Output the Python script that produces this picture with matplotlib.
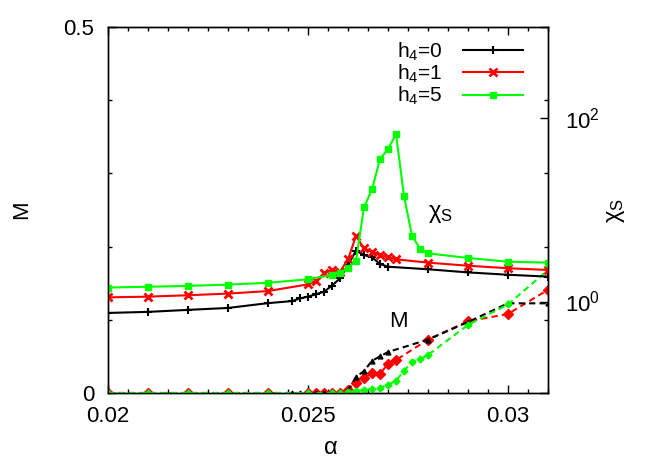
import matplotlib
matplotlib.use("Agg")
import matplotlib.pyplot as plt
from matplotlib.ticker import FixedLocator, NullLocator, MultipleLocator
from matplotlib.lines import Line2D

plt.rcParams['font.family'] = ['Liberation Sans', 'DejaVu Sans']
plt.rcParams['mathtext.fontset'] = 'custom'
plt.rcParams['mathtext.rm'] = 'Liberation Sans'
plt.rcParams['mathtext.it'] = 'Liberation Sans'

# alpha grids
alpha_h0 = [0.020, 0.021, 0.022, 0.023, 0.024, 0.0246, 0.0248, 0.0250, 0.0252, 0.0254, 0.0256,
            0.0258, 0.0260, 0.0262, 0.0264, 0.0266, 0.0268, 0.0270, 0.028, 0.029, 0.030, 0.031]
alpha_h1 = [0.020, 0.021, 0.022, 0.023, 0.024, 0.025, 0.0252, 0.0254, 0.0256, 0.0258, 0.0260,
            0.0262, 0.0264, 0.0266, 0.0268, 0.0270, 0.0272, 0.028, 0.029, 0.030, 0.031]
alpha_h5 = [0.020, 0.021, 0.022, 0.023, 0.024, 0.025, 0.0256, 0.0258, 0.0260, 0.0262, 0.0264,
            0.0266, 0.0268, 0.0270, 0.0272, 0.0274, 0.0276, 0.0278, 0.028, 0.029, 0.030, 0.031]

# susceptibility chi_S (right, log axis)
chi_h0 = [0.75, 0.77, 0.81, 0.85, 0.96, 1.01, 1.08, 1.13, 1.20, 1.28, 1.49,
          1.79, 2.51, 3.59, 3.22, 3.04, 2.57, 2.40, 2.25, 2.08, 1.96, 1.87]
chi_h1 = [1.11, 1.13, 1.17, 1.22, 1.30, 1.54, 1.68, 2.03, 2.21, 2.12, 2.89,
          5.20, 3.81, 3.50, 3.22, 3.04, 2.89, 2.66, 2.46, 2.31, 2.21]
chi_h5 = [1.42, 1.45, 1.48, 1.53, 1.60, 1.75, 1.95, 2.07, 2.34, 2.79, 10.7,
          16.8, 36.1, 46.0, 67.7, 14.2, 5.24, 3.78, 3.36, 2.99, 2.72, 2.66]

# magnetisation M (left axis)
m_h0 = [0, 0, 0, 0, 0, 0, 0, 0, 0, 0, 0,
        0, 0.004, 0.022, 0.030, 0.044, 0.050, 0.056, 0.073, 0.097, 0.1225, 0.1225]
m_h1 = [0, 0, 0, 0, 0, 0, 0, 0, 0, 0, 0.004,
        0.014, 0.020, 0.028, 0.026, 0.040, 0.045, 0.073, 0.098, 0.108, 0.141]
m_h5 = [0, 0, 0, 0, 0, 0, 0, 0, 0.001, 0.003, 0.004,
        0.006, 0.007, 0.011, 0.017, 0.030, 0.043, 0.046, 0.052, 0.093, 0.121, 0.168]

labels = ['h$_4$=0', 'h$_4$=1', 'h$_4$=5']
colors = ['black', '#ff0000', '#00ff00']

fig = plt.figure(figsize=(6.64, 4.65), dpi=100)
ax = fig.add_axes([108/664, 72/465, 440/664, 366/465])
ax2 = ax.twinx()

# M curves, dashed
ax.plot(alpha_h0, m_h0, color=colors[0], ls=(0, (3, 2)), lw=1.5, marker='^', ms=3.5, zorder=3)
ax.plot(alpha_h1, m_h1, color=colors[1], ls=(0, (3, 2)), lw=1.5, marker='D', ms=5.5, zorder=2)
ax.plot(alpha_h5, m_h5, color=colors[2], ls=(0, (3, 2)), lw=1.5, marker='D', ms=3.5, zorder=3)

# chi curves, solid
ax2.plot(alpha_h0, chi_h0, color=colors[0], lw=1.5, marker='+', ms=6, mew=1.5)
ax2.plot(alpha_h1, chi_h1, color=colors[1], lw=1.5, marker='x', ms=5.5, mew=2)
ax2.plot(alpha_h5, chi_h5, color=colors[2], lw=1.5, marker='s', ms=5)

ax.set_xlim(0.020, 0.031)
ax.set_ylim(0, 0.5)
ax2.set_yscale('log')
ax2.set_ylim(0.1, 1000)

ax.xaxis.set_major_locator(FixedLocator([0.020, 0.025, 0.030]))
ax.xaxis.set_minor_locator(MultipleLocator(0.0005))
ax.set_xticklabels(['0.02', '0.025', '0.03'])
ax.yaxis.set_major_locator(FixedLocator([0, 0.5]))
ax.yaxis.set_minor_locator(FixedLocator([0.1, 0.2, 0.3, 0.4]))
ax.set_yticklabels(['0', '0.5'])
ax.tick_params(which='both', direction='in', top=True, right=True, labelsize=16)
ax.tick_params(which='major', length=6, width=1)
ax.tick_params(which='minor', length=3, width=1)
ax.tick_params(axis='x', pad=9)
ax.tick_params(axis='y', pad=10)

ax2.yaxis.set_major_locator(FixedLocator([1, 100]))
ax2.yaxis.set_minor_locator(NullLocator())
ax2.set_yticklabels(['10$^0$', '10$^2$'])
ax2.tick_params(which='major', direction='in', length=6, width=1, labelsize=16, pad=12)

for a in (ax, ax2):
    for s in a.spines.values():
        s.set_linewidth(1)

ax.text(0.0283, 0.245, r'$\chi_S$', fontsize=17, ha='center', va='center')
ax.text(0.02726, 0.097, 'M', fontsize=16, ha='center', va='center')

fig.text(22/664, 1 - 210/465, 'M', fontsize=16, rotation=90, ha='center', va='center')
fig.text(616/664, 1 - 211/465, r'$\chi_S$', fontsize=17, rotation=90, ha='center', va='center')
fig.text(330/664, 1 - 448/465, r'$\alpha$', fontsize=17, ha='center', va='center')

handles = [
    Line2D([], [], color=colors[0], lw=1.5, marker='+', ms=6, mew=1.5),
    Line2D([], [], color=colors[1], lw=1.5, marker='x', ms=5.5, mew=2),
    Line2D([], [], color=colors[2], lw=1.5, marker='s', ms=5),
]
ax2.legend(handles, labels, loc='upper right', bbox_to_anchor=(533/664, 1 - 30/465),
           bbox_transform=fig.transFigure, frameon=False, markerfirst=False,
           numpoints=1, fontsize=15, handlelength=2.85, handletextpad=1.0,
           labelspacing=0.0, borderpad=0)

fig.savefig('out.png', dpi=100)
